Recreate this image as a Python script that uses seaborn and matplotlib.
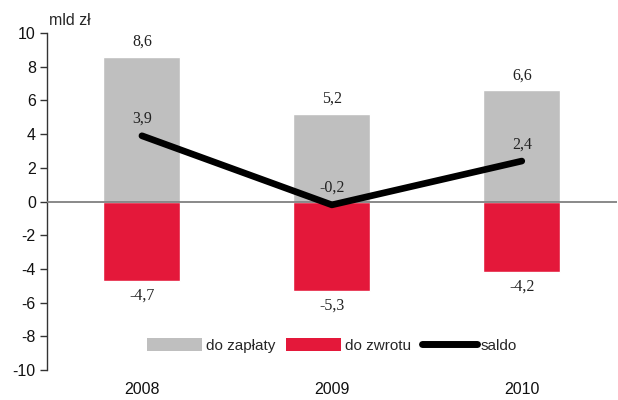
import matplotlib
matplotlib.use("Agg")
import matplotlib.pyplot as plt
import seaborn as sns
import pandas as pd
from matplotlib.patches import Patch
from matplotlib.lines import Line2D

years = ["2008", "2009", "2010"]
do_zaplaty = [8.6, 5.2, 6.6]
do_zwrotu = [-4.7, -5.3, -4.2]
saldo = [3.9, -0.2, 2.4]
series_names = ["do zapłaty", "do zwrotu", "saldo"]
unit_label = "mld zł"

def fmt(v):
    return f"{v:.1f}".replace(".", ",")

sns.set_theme(style="white")
plt.rcParams['font.family'] = ['Liberation Sans', 'DejaVu Sans']
plt.rcParams['axes.unicode_minus'] = False

GRAY = "#BFBFBF"
RED = "#E4183A"

fig = plt.figure(figsize=(6.18, 4.0), dpi=100)
ax = fig.add_axes([0.076, 0.075, 0.922, 0.8425])

df = pd.DataFrame({"year": years, "plus": do_zaplaty, "minus": do_zwrotu, "saldo": saldo})

sns.barplot(data=df, x="year", y="plus", color=GRAY, width=0.405, saturation=1, ax=ax, zorder=2)
sns.barplot(data=df, x="year", y="minus", color=RED, width=0.405, saturation=1, ax=ax, zorder=2)
ax.axhline(0, color="#808080", lw=1.3, zorder=3)
sns.pointplot(data=df, x="year", y="saldo", color="black", markers="", linewidth=4.8, ax=ax, zorder=4)

serif = ['Liberation Serif', 'DejaVu Serif']
for i, (p, m, s) in enumerate(zip(do_zaplaty, do_zwrotu, saldo)):
    ax.text(i, p + 0.4, fmt(p), ha="center", va="bottom", fontsize=11.5, family=serif, color="#222222")
    ax.text(i, m - 0.4, fmt(m), ha="center", va="top", fontsize=11.5, family=serif, color="#222222")
    ax.text(i, s + 1.0, fmt(s), ha="center", va="center", fontsize=11.5, family=serif, color="#222222")

ax.set_xlim(-0.5, 2.5)
ax.set_ylim(-10, 10)
ax.set_yticks(range(-10, 11, 2))
ax.set_xlabel("")
ax.set_ylabel("")
for sp in ["top", "right", "bottom"]:
    ax.spines[sp].set_visible(False)
ax.spines["left"].set_color("#333333")
ax.spines["left"].set_linewidth(1.0)
ax.tick_params(axis="y", left=True, length=5, width=1, color="#333333", labelsize=11.5, pad=3, labelcolor="#111111")
ax.tick_params(axis="x", bottom=False, labelsize=11.5, pad=3, labelcolor="#111111")

ax.text(0.003, 1.015, unit_label, transform=ax.transAxes, fontsize=11.5, ha="left", va="bottom")

handles = [Patch(facecolor=GRAY, edgecolor="none"),
           Patch(facecolor=RED, edgecolor="none"),
           Line2D([0], [0], color="black", lw=5, solid_capstyle="round")]
ax.legend(handles, series_names, loc="center", bbox_to_anchor=(0.5, 0.072), ncol=3,
          frameon=False, fontsize=11, handlelength=3.6, handleheight=0.9,
          handletextpad=0.25, columnspacing=0.7)

fig.savefig("out.png", dpi=100)
